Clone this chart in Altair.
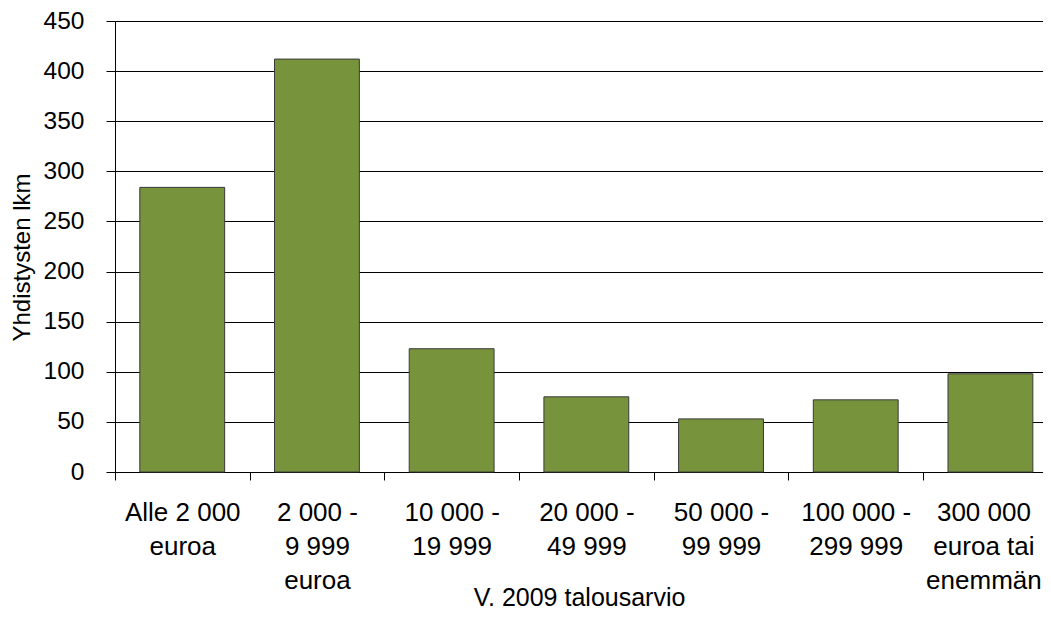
import altair as alt
import pandas as pd

categories = [
    "Alle 2 000\neuroa",
    "2 000 -\n9 999\neuroa",
    "10 000 -\n19 999",
    "20 000 -\n49 999",
    "50 000 -\n99 999",
    "100 000 -\n299 999",
    "300 000\neuroa tai\nenemmän",
]
values = [284, 412, 123, 75, 53, 72, 98]
y_ticks = [0, 50, 100, 150, 200, 250, 300, 350, 400, 450]

df = pd.DataFrame({"cat": categories, "val": values})

FONT = "Liberation Sans"
STEP = 134.7

chart = alt.Chart(df).mark_bar(
    color="#77933C", stroke="#3a3a3a", strokeWidth=1
).encode(
    x=alt.X(
        "cat:N",
        sort=categories,
        title="V. 2009 talousarvio",
        scale=alt.Scale(paddingInner=0.37, paddingOuter=0.1297, align=0.71),
        axis=alt.Axis(
            labelAngle=0,
            labelExpr="split(datum.label, '\\n')",
            labelFont=FONT,
            labelFontSize=26,
            labelColor="#000000",
            labelLineHeight=34,
            labelPadding=19,
            labelBaseline="top",
            labelOverlap=False,
            labelBound=False,
            tickOffset=-STEP / 2,
            labelOffset={
                "condition": {"test": "indexof(datum.value, 'enemm') >= 0", "value": STEP / 2 - 7},
                "value": STEP / 2,
            },
            tickSize=8,
            tickColor="#000000",
            domainColor="#000000",
            titleFont=FONT,
            titleFontSize=25,
            titleFontWeight="normal",
            titleColor="#000000",
            titleBaseline="alphabetic",
            titleY=133,
            grid=False,
        ),
    ),
    y=alt.Y(
        "val:Q",
        title="Yhdistysten lkm",
        scale=alt.Scale(domain=[0, 450], nice=False),
        axis=alt.Axis(
            values=y_ticks,
            labelFont=FONT,
            labelFontSize=24.5,
            labelColor="#000000",
            labelPadding=22,
            tickSize=9,
            tickColor="#000000",
            domainColor="#000000",
            gridColor="#000000",
            gridWidth=1,
            titleFont=FONT,
            titleFontSize=24,
            titleFontWeight="normal",
            titleColor="#000000",
            titlePadding=9,
            titleY=236,
        ),
    ),
).properties(
    width=928,
    height=451,
    autosize=alt.AutoSizeParams(type="none"),
    padding={"left": 107, "top": 13, "right": 0, "bottom": 150},
).configure_view(stroke=None).configure(background="#ffffff")

chart.save("out.html", embed_options={"renderer": "svg", "actions": False})
